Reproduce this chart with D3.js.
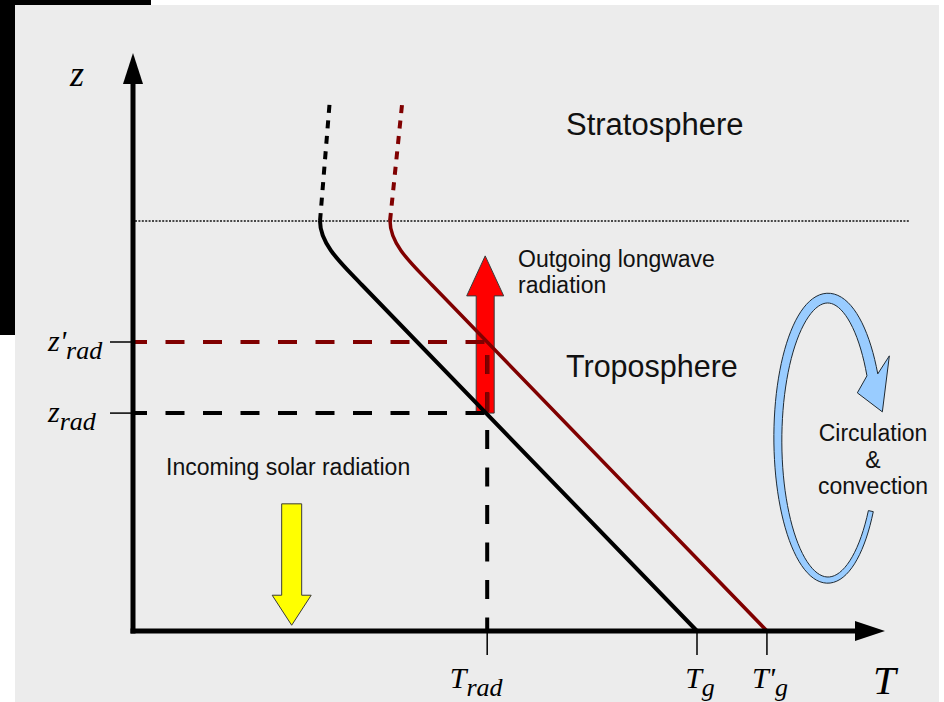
<!DOCTYPE html>
<html><head><meta charset="utf-8">
<script src="https://cdn.jsdelivr.net/npm/d3@7/dist/d3.min.js"></script>
<style>body{margin:0;background:#fff}svg{display:block}</style>
</head><body><svg id="chart" width="944" height="702"></svg>
<script>
// ---- data (T and z in arbitrary units, origin at axes crossing) ----
const tTickValues = [47.1, 75.0, 84.3];
const tTickBase = ["T", "T", "T'"];
const tTickSub = ["rad", "g", "g"];
const zTickValues = [37.7, 50.0];
const zTickBase = ["z", "z'"];
const zTickSub = ["rad", "rad"];
const tropopauseZ = 70.93;
// profile: surface, start of bend, bezier c1, bezier c2, tropopause, top of stratosphere
const profileBlack = [[75.0, 0], [30.45, 59.86], [27.93, 63.32], [24.87, 66.78], [24.87, 70.93], [26.20, 92.21]];
const profileRed = [[84.31, 0], [39.76, 59.86], [37.23, 63.32], [34.18, 66.78], [34.18, 70.93], [35.77, 91.0]];
const outgoingArrow = [47.1, 37.7, 64.9];   // T, z bottom, z tip
const incomingArrow = [21.1, 22.0, 1.0];    // T, z top, z tip
const regionLabels = ["Stratosphere", "Troposphere"];
const annotationLabels = ["Outgoing longwave", "radiation", "Incoming solar radiation"];
const circulationLabels = ["Circulation", "&", "convection"];

const svg = d3.select("#chart");
const x = d3.scaleLinear().domain([0, 100]).range([133, 885]);
const y = d3.scaleLinear().domain([0, 100]).range([631, 53]);

// ---- frame ----
svg.append("rect").attr("x", 0).attr("y", 0).attr("width", 944).attr("height", 702).attr("fill", "#fff");
svg.append("rect").attr("x", 15).attr("y", 5).attr("width", 924).attr("height", 697).attr("fill", "#ececec");
svg.append("rect").attr("x", 0).attr("y", 0).attr("width", 151).attr("height", 5).attr("fill", "#000");
svg.append("rect").attr("x", 0).attr("y", 0).attr("width", 15).attr("height", 335).attr("fill", "#000");

// ---- tropopause dotted line ----
svg.append("line").attr("x1", x(0) + 2).attr("x2", x(103.3))
  .attr("y1", y(tropopauseZ)).attr("y2", y(tropopauseZ))
  .attr("stroke", "#111").attr("stroke-width", 1.4).attr("stroke-dasharray", "2,1.4");

// ---- red outgoing arrow ----
function vArrow(cx, yBase, yTip, shaftHW, headHW, headLen) {
  const dir = yTip < yBase ? 1 : -1; // 1 = up
  const yh = yTip + dir * headLen;
  return `M${cx - shaftHW},${yBase} L${cx - shaftHW},${yh} L${cx - headHW},${yh} L${cx},${yTip} L${cx + headHW},${yh} L${cx + shaftHW},${yh} L${cx + shaftHW},${yBase} Z`;
}
svg.append("path")
  .attr("d", vArrow(x(outgoingArrow[0]) - 2, y(outgoingArrow[1]), y(outgoingArrow[2]), 9, 18.5, 40))
  .attr("fill", "#ff0000").attr("stroke", "#3a3a3a").attr("stroke-width", 1);

// ---- yellow incoming arrow ----
svg.append("path")
  .attr("d", vArrow(x(incomingArrow[0]), y(incomingArrow[1]), y(incomingArrow[2]), 10, 19.5, 30))
  .attr("fill", "#ffff00").attr("stroke", "#3a3a3a").attr("stroke-width", 1);

// ---- dashed guides ----
const dashCol = ["#000", "#800000"];
zTickValues.forEach((v, i) => {
  svg.append("line").attr("x1", x(0)).attr("x2", x(tTickValues[0]))
    .attr("y1", y(v)).attr("y2", y(v))
    .attr("stroke", dashCol[i]).attr("stroke-width", 4)
    .attr("stroke-dasharray", "19,18.5").attr("stroke-dashoffset", 5);
});
svg.append("clipPath").attr("id", "inArrow").append("rect")
  .attr("x", 0).attr("y", 0).attr("width", 944).attr("height", y(zTickValues[0]));
[["#000", null], ["#800000", "url(#inArrow)"]].forEach(([c, clip]) => {
  const l = svg.append("line").attr("x1", x(tTickValues[0])).attr("x2", x(tTickValues[0]))
    .attr("y1", y(zTickValues[1])).attr("y2", y(0))
    .attr("stroke", c).attr("stroke-width", 4)
    .attr("stroke-dasharray", "19,18.5").attr("stroke-dashoffset", 24.5);
  if (clip) l.attr("clip-path", clip);
});

// ---- temperature profiles ----
function tropPath(p) {
  const path = d3.path();
  path.moveTo(x(p[0][0]), y(p[0][1]));
  path.lineTo(x(p[1][0]), y(p[1][1]));
  path.bezierCurveTo(x(p[2][0]), y(p[2][1]), x(p[3][0]), y(p[3][1]), x(p[4][0]), y(p[4][1]));
  return path.toString();
}
function stratPath(p) {
  return d3.line().x(d => x(d[0])).y(d => y(d[1]))([p[4], p[5]]);
}
[[profileBlack, "#000", 4], [profileRed, "#800000", 3.5]].forEach(([p, c, w]) => {
  svg.append("path").attr("d", tropPath(p)).attr("fill", "none")
    .attr("stroke", c).attr("stroke-width", w);
  svg.append("path").attr("d", stratPath(p)).attr("fill", "none")
    .attr("stroke", c).attr("stroke-width", 4).attr("stroke-dasharray", "8,7.5");
});

// ---- axes ----
svg.append("line").attr("x1", x(0)).attr("x2", x(0)).attr("y1", y(0) + 2.5).attr("y2", y(100) + 30)
  .attr("stroke", "#000").attr("stroke-width", 5);
svg.append("path").attr("d", `M${x(0)},${y(100)} L${x(0) - 10},${y(100) + 31} L${x(0) + 10},${y(100) + 31} Z`).attr("fill", "#000");
svg.append("line").attr("x1", x(0) - 2.5).attr("x2", x(100) - 29).attr("y1", y(0)).attr("y2", y(0))
  .attr("stroke", "#000").attr("stroke-width", 5);
svg.append("path").attr("d", `M${x(100)},${y(0)} L${x(100) - 30},${y(0) - 10} L${x(100) - 30},${y(0) + 10} Z`).attr("fill", "#000");

// ticks
tTickValues.forEach(v => {
  svg.append("line").attr("x1", x(v)).attr("x2", x(v)).attr("y1", y(0)).attr("y2", y(0) + 24)
    .attr("stroke", "#000").attr("stroke-width", 1.5);
});
zTickValues.forEach(v => {
  svg.append("line").attr("x1", x(0) - 23).attr("x2", x(0)).attr("y1", y(v)).attr("y2", y(v))
    .attr("stroke", "#000").attr("stroke-width", 1.5);
});

const serif = "'Liberation Serif','DejaVu Serif',serif";
const sans = "'Liberation Sans',Arial,sans-serif";

function mathLabel(xx, yy, base, sub, anchor, bs, ss) {
  const t = svg.append("text").attr("x", xx).attr("y", yy)
    .attr("font-family", serif).attr("font-style", "italic").attr("fill", "#000")
    .attr("text-anchor", anchor);
  t.append("tspan").attr("font-size", bs).text(base);
  t.append("tspan").attr("font-size", ss).attr("dy", 8).text(sub);
}
tTickValues.forEach((v, i) => {
  mathLabel(x(v) + (tTickSub[i] === "rad" ? -11 : 3), 688, tTickBase[i], tTickSub[i], "middle", 30, 26);
});
zTickValues.forEach((v, i) => {
  mathLabel(48, y(v) + 9, zTickBase[i], zTickSub[i], "start", 30, 26);
});
svg.append("text").attr("x", 70).attr("y", 86).attr("font-family", serif).attr("font-style", "italic")
  .attr("font-size", 36).text("z");
svg.append("text").attr("x", 873).attr("y", 694).attr("font-family", serif).attr("font-style", "italic")
  .attr("font-size", 41).text("T");

// ---- text annotations ----
svg.append("text").attr("x", 566).attr("y", 135).attr("font-family", sans).attr("font-size", 31).attr("fill", "#111").text(regionLabels[0]);
svg.append("text").attr("x", 566).attr("y", 377).attr("font-family", sans).attr("font-size", 30.5).attr("fill", "#111").text(regionLabels[1]);
svg.append("text").attr("x", 518).attr("y", 267).attr("font-family", sans).attr("font-size", 23).attr("fill", "#111").text(annotationLabels[0]);
svg.append("text").attr("x", 518).attr("y", 293).attr("font-family", sans).attr("font-size", 23).attr("fill", "#111").text(annotationLabels[1]);
svg.append("text").attr("x", 166).attr("y", 475).attr("font-family", sans).attr("font-size", 23).attr("fill", "#111").text(annotationLabels[2]);
circulationLabels.forEach((s, i) => {
  svg.append("text").attr("x", 873).attr("y", 441 + i * 26.5).attr("text-anchor", "middle")
    .attr("font-family", sans).attr("font-size", 23).attr("fill", "#111").text(s);
});

// ---- circulation loop arrow ----
(function () {
  const cx = x(92.4), cy = y(33.2), rx = 50, ry = 141, t0 = 0.536, t1 = 5.81;
  const C = t => [cx + rx * Math.cos(t), cy + ry * Math.sin(t)];
  const N = t => { const a = Math.cos(t) / rx, b = Math.sin(t) / ry, m = Math.hypot(a, b); return [a / m, b / m]; };
  const hw = t => 2.5 + 3 * (t - t0) / (t1 - t0);
  const n = 90, outer = [], inner = [];
  for (let i = 0; i <= n; i++) {
    const t = t0 + (t1 - t0) * i / n, c = C(t), nn = N(t), h = hw(t);
    outer.push([c[0] + nn[0] * h, c[1] + nn[1] * h]);
    inner.push([c[0] - nn[0] * h, c[1] - nn[1] * h]);
  }
  const c1 = C(t1);
  // skewed arrow head: base runs up-right, tip points down
  const pts = outer.concat([
    [c1[0] + 17, c1[1] - 19],
    [c1[0] + 10, c1[1] + 37],
    [c1[0] - 15, c1[1] + 18]
  ]).concat(inner.reverse());
  svg.append("path").attr("d", "M" + pts.map(p => p.join(",")).join("L") + "Z")
    .attr("fill", "#99ccff").attr("stroke", "#1f2a33").attr("stroke-width", 1);
})();
</script>
</body></html>
